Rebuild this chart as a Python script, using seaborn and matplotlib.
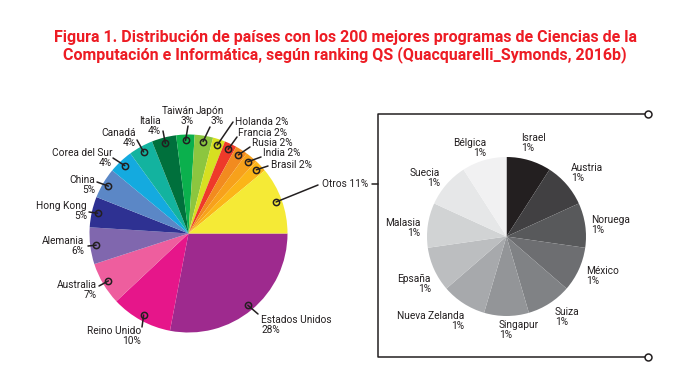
import numpy as np
import matplotlib
matplotlib.use("Agg")
import matplotlib.pyplot as plt
import seaborn as sns
from matplotlib import font_manager

# main pie: countries, share (%)
countries = ["Estados Unidos", "Reino Unido", "Australia", "Alemania", "Hong Kong", "China",
             "Corea del Sur", "Canadá", "Italia", "Taiwán", "Japón", "Holanda", "Francia",
             "Rusia", "India", "Brasil", "Otros"]
shares = [28, 10, 7, 6, 5, 5, 4, 4, 4, 3, 3, 2, 2, 2, 2, 2, 11]
colors = ["#9E2A8E", "#E6168A", "#EE5E9E", "#8067AE", "#2E3192", "#5B87C6", "#14AADF",
          "#13B39F", "#00703C", "#0BB04D", "#8CC63F", "#D7E021", "#EE3A2A", "#F28B1F",
          "#F7A11B", "#FBB518", "#F5EA36"]

# detail of "Otros"
others = ["Israel", "Austria", "Noruega", "México", "Suiza", "Singapur", "Nueva Zelanda",
          "Epsaña", "Malasia", "Suecia", "Bélgica"]
others_shares = [1, 1, 1, 1, 1, 1, 1, 1, 1, 1, 1]
grays = ["#231F20", "#414042", "#58595B", "#6D6E71", "#808285", "#939598", "#A7A9AC",
         "#BCBEC0", "#D1D3D4", "#E6E7E8", "#F1F1F2"]

W, H = 690, 391
INK = "#231F20"
LABEL_SIZE = 7.3

sns.set_theme(style="white")
names = {f.name for f in font_manager.fontManager.ttflist}
title_font = "Liberation Sans Narrow" if "Liberation Sans Narrow" in names else "Roboto"
plt.rcParams["font.family"] = ["Roboto", "DejaVu Sans"]


def Y(y):
    return H - y


fig = plt.figure(figsize=(W / 100, H / 100), dpi=100)
ax = fig.add_axes([0, 0, 1, 1])

# left pie
c1, r1 = (188.5, Y(233.5)), 99
wedges, _ = ax.pie(shares, colors=colors, startangle=0, counterclock=False,
                   center=c1, radius=r1, wedgeprops=dict(linewidth=0))

# label text position (x, y, ha) and leader-line end, image pixel coords
lab_pos = [(261, 325, "left"), (141, 336, "right"), (97, 290, "right"), (84, 246, "right"),
           (87, 211, "right"), (95, 185, "right"), (112, 158, "right"), (136, 138, "right"),
           (161, 126, "right"), (194, 116, "right"), (224, 116, "right"), (235, 122, "left"),
           (238, 133, "left"), (252, 143, "left"), (263, 153, "left"), (271, 165, "left"),
           (322, 184, "left")]
lead_end = [(258, 314), (142, 327), (99, 286), (88, 246), (89, 212), (97, 182), (113, 158),
            (137, 140), (163, 131), (188, 126), (210, 127), (233, 122), (237, 137),
            (250, 147), (261, 157), (268, 166), (318, 185)]
one_line = {"Holanda", "Francia", "Rusia", "India", "Brasil", "Otros"}

for w, name, val, (tx, ty, ha), (lx, ly) in zip(wedges, countries, shares, lab_pos, lead_end):
    ang = np.deg2rad((w.theta1 + w.theta2) / 2)
    mx = c1[0] + 0.94 * r1 * np.cos(ang)
    my = c1[1] + 0.94 * r1 * np.sin(ang)
    ax.plot([mx, lx], [my, Y(ly)], color=INK, lw=1.1, zorder=3)
    ax.plot(mx, my, "o", ms=4.5, mfc="none", mec=INK, mew=1.1, zorder=4)
    sep = " " if name in one_line else "\n"
    ax.text(tx, Y(ty), f"{name}{sep}{val}%", ha=ha, va="center", fontsize=LABEL_SIZE,
            color=INK, linespacing=1.0, multialignment=ha)

# right pie
c2, r2 = (506.5, Y(236.5)), 79.5
ax.pie(others_shares, colors=grays, startangle=90, counterclock=False,
       center=c2, radius=r2, wedgeprops=dict(linewidth=0))
right_pos = [(521, 143, "left"), (571, 173, "left"), (591, 225, "left"), (586, 276, "left"),
             (555, 317, "left"), (499, 330, "left"), (464, 321, "right"), (431, 284, "right"),
             (420, 228, "right"), (440, 178, "right"), (486, 148, "right")]
for name, val, (tx, ty, ha) in zip(others, others_shares, right_pos):
    ax.text(tx, Y(ty), f"{name}\n{val}%", ha=ha, va="center", fontsize=LABEL_SIZE,
            color=INK, linespacing=1.0, multialignment=ha)

# bracket
ax.plot([648, 378, 378, 648], [Y(114), Y(114), Y(357), Y(357)], color=INK, lw=1.1)
ax.plot([372, 378], [Y(184), Y(184)], color=INK, lw=1.1)
ax.plot([648, 648], [Y(114), Y(357)], "o", ms=5, mfc="white", mec=INK, mew=1.1, ls="none")

# title
title = ["Figura 1. Distribución de países con los 200 mejores programas de Ciencias de la",
         "Computación e Informática, según ranking QS (Quacquarelli_Symonds, 2016b)"]
for line, yb in zip(title, [41.7, 59.3]):
    ax.text(345, Y(yb), line, ha="center", va="baseline", fontsize=11.5,
            fontweight="bold", color="#ED1C24", family=[title_font, "DejaVu Sans"])

ax.set_xlim(0, W)
ax.set_ylim(0, H)
ax.set_aspect("equal")
ax.axis("off")
fig.savefig("out.png", dpi=100)
